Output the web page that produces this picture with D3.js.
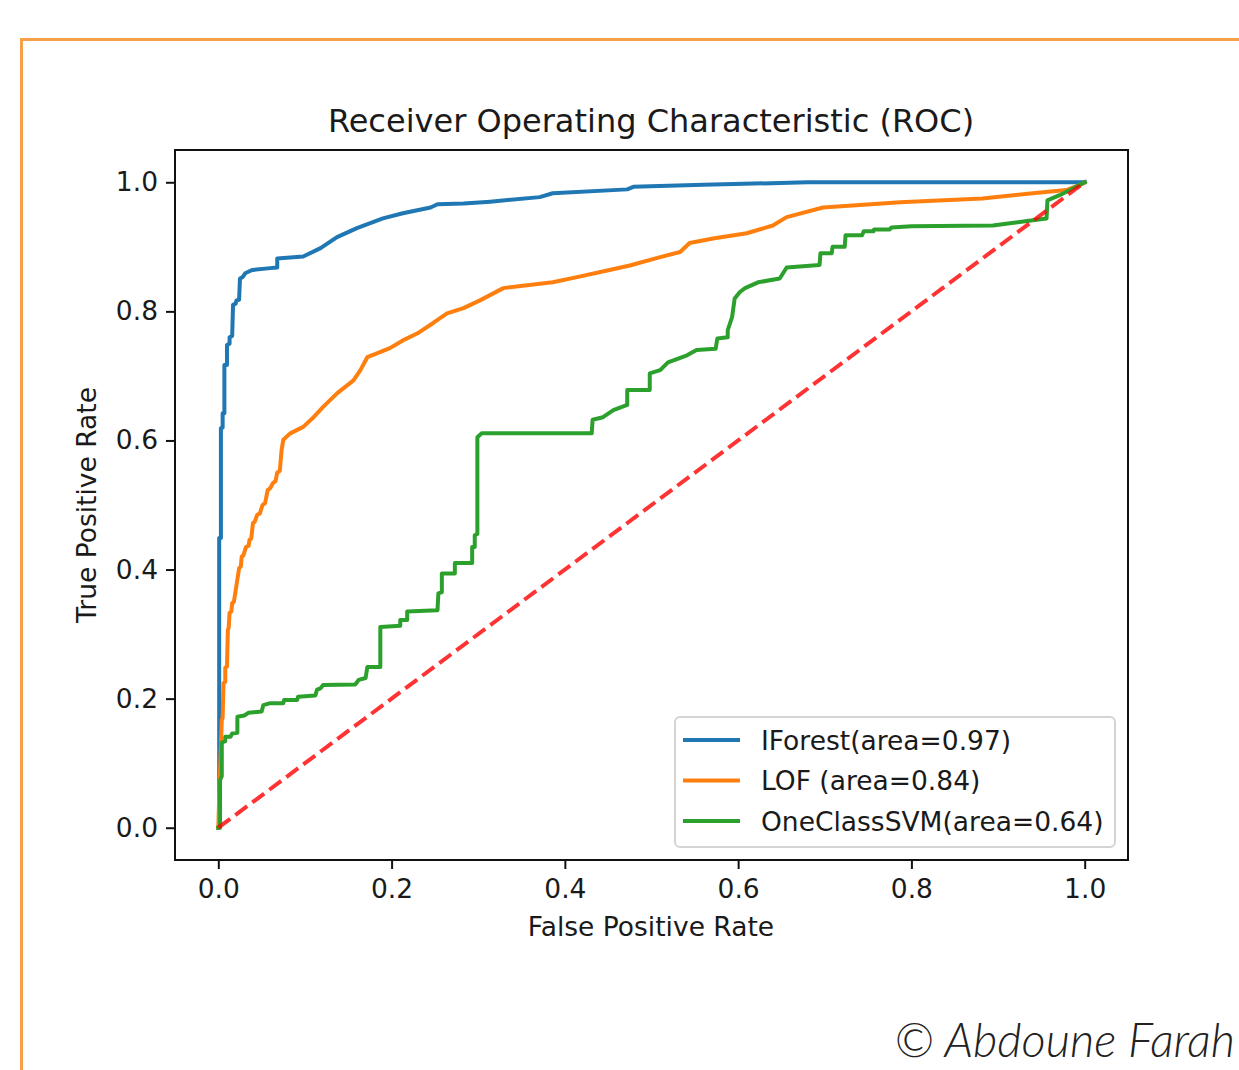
<!DOCTYPE html>
<html>
<head>
<meta charset="utf-8">
<script src="https://cdn.jsdelivr.net/npm/d3@7"></script>
<style>
  html, body { margin: 0; padding: 0; background: #fff; }
  svg { display: block; }
</style>
</head>
<body>
<svg id="chart"></svg>
<script>
// ROC curve points (false positive rate, true positive rate)
var iforestFpr = [0, 0.001, 0.001, 0.003, 0.003, 0.005, 0.005, 0.007, 0.007, 0.010, 0.010, 0.013, 0.013, 0.016, 0.017, 0.020, 0.021, 0.024, 0.025, 0.028, 0.031, 0.039, 0.060, 0.068, 0.068, 0.098, 0.118, 0.137, 0.160, 0.190, 0.213, 0.245, 0.253, 0.283, 0.314, 0.371, 0.386, 0.472, 0.479, 0.560, 0.680, 1.0];
var iforestTpr = [0, 0, 0.449, 0.449, 0.619, 0.620, 0.642, 0.642, 0.717, 0.717, 0.748, 0.750, 0.760, 0.762, 0.810, 0.812, 0.817, 0.818, 0.851, 0.853, 0.859, 0.864, 0.867, 0.868, 0.882, 0.885, 0.898, 0.915, 0.929, 0.944, 0.952, 0.961, 0.966, 0.967, 0.970, 0.977, 0.983, 0.989, 0.993, 0.996, 1.0, 1.0];

var lofFpr = [0, 0.001, 0.002, 0.004, 0.005, 0.006, 0.008, 0.008, 0.010, 0.011, 0.012, 0.013, 0.015, 0.016, 0.018, 0.024, 0.026, 0.027, 0.029, 0.032, 0.035, 0.036, 0.038, 0.040, 0.042, 0.045, 0.048, 0.051, 0.054, 0.057, 0.060, 0.063, 0.066, 0.068, 0.071, 0.073, 0.075, 0.083, 0.098, 0.110, 0.121, 0.137, 0.156, 0.164, 0.172, 0.183, 0.198, 0.213, 0.230, 0.248, 0.264, 0.283, 0.302, 0.329, 0.386, 0.414, 0.441, 0.475, 0.510, 0.533, 0.544, 0.571, 0.610, 0.640, 0.656, 0.698, 0.787, 0.882, 0.940, 0.979, 0.998, 1.0];
var lofTpr = [0, 0.048, 0.085, 0.167, 0.170, 0.224, 0.226, 0.248, 0.250, 0.306, 0.310, 0.333, 0.335, 0.348, 0.350, 0.402, 0.405, 0.420, 0.422, 0.435, 0.437, 0.446, 0.448, 0.472, 0.474, 0.485, 0.487, 0.500, 0.503, 0.523, 0.526, 0.534, 0.537, 0.550, 0.553, 0.585, 0.601, 0.611, 0.621, 0.636, 0.652, 0.673, 0.693, 0.709, 0.729, 0.735, 0.743, 0.755, 0.766, 0.782, 0.797, 0.805, 0.817, 0.836, 0.845, 0.853, 0.861, 0.871, 0.884, 0.892, 0.906, 0.913, 0.921, 0.933, 0.946, 0.961, 0.969, 0.975, 0.983, 0.988, 0.998, 1.0];

var svmFpr = [0, 0.002, 0.002, 0.004, 0.004, 0.008, 0.008, 0.014, 0.016, 0.022, 0.022, 0.030, 0.035, 0.050, 0.052, 0.060, 0.075, 0.076, 0.091, 0.092, 0.112, 0.114, 0.118, 0.121, 0.158, 0.162, 0.170, 0.172, 0.187, 0.187, 0.210, 0.210, 0.218, 0.218, 0.253, 0.254, 0.258, 0.258, 0.273, 0.273, 0.293, 0.293, 0.296, 0.296, 0.299, 0.299, 0.304, 0.431, 0.432, 0.444, 0.456, 0.472, 0.472, 0.498, 0.498, 0.510, 0.519, 0.541, 0.552, 0.574, 0.576, 0.588, 0.588, 0.593, 0.596, 0.602, 0.608, 0.623, 0.648, 0.656, 0.694, 0.695, 0.708, 0.709, 0.723, 0.724, 0.743, 0.745, 0.756, 0.757, 0.775, 0.777, 0.800, 0.894, 0.916, 0.940, 0.956, 0.957, 0.971, 0.983, 1.0];
var svmTpr = [0, 0, 0.074, 0.080, 0.132, 0.134, 0.141, 0.141, 0.146, 0.147, 0.172, 0.174, 0.178, 0.180, 0.190, 0.193, 0.193, 0.198, 0.198, 0.203, 0.205, 0.214, 0.216, 0.221, 0.222, 0.229, 0.232, 0.249, 0.249, 0.311, 0.313, 0.322, 0.322, 0.335, 0.337, 0.363, 0.365, 0.394, 0.394, 0.410, 0.410, 0.435, 0.435, 0.453, 0.455, 0.605, 0.611, 0.611, 0.632, 0.636, 0.647, 0.655, 0.678, 0.678, 0.704, 0.709, 0.721, 0.732, 0.740, 0.742, 0.758, 0.760, 0.771, 0.791, 0.820, 0.830, 0.836, 0.845, 0.851, 0.868, 0.872, 0.890, 0.890, 0.900, 0.900, 0.918, 0.918, 0.924, 0.924, 0.927, 0.927, 0.930, 0.932, 0.933, 0.937, 0.941, 0.944, 0.972, 0.980, 0.988, 1.0];

var seriesNames = ["IForest(area=0.97)", "LOF (area=0.84)", "OneClassSVM(area=0.64)"];
var seriesColors = ["#1f77b4", "#ff7f0e", "#2ca02c"];
var tickValues = [0.0, 0.2, 0.4, 0.6, 0.8, 1.0];

var width = 1239, height = 1070;
var font = "'DejaVu Sans', sans-serif";
var fontSize = "26.5px";

var svg = d3.select("#chart")
    .attr("width", width)
    .attr("height", height);

svg.append("rect")
    .attr("width", width)
    .attr("height", height)
    .attr("fill", "#fff");

// orange frame round the picture
svg.append("path")
    .attr("d", "M21.5," + height + " L21.5,39.5 L" + width + ",39.5")
    .attr("fill", "none")
    .attr("stroke", "#f6a04a")
    .attr("stroke-width", 3);

var plot = {left: 175, right: 1128, top: 150, bottom: 860};

var x = d3.scaleLinear().domain([-0.05, 1.05]).range([plot.left, plot.right]);
var y = d3.scaleLinear().domain([-0.05, 1.05]).range([plot.bottom, plot.top]);

var g = svg.append("g");

var line = d3.line()
    .x(function (d) { return x(d[0]); })
    .y(function (d) { return y(d[1]); });

function zip(a, b) {
    return a.map(function (v, i) { return [v, b[i]]; });
}

var curves = [zip(iforestFpr, iforestTpr), zip(lofFpr, lofTpr), zip(svmFpr, svmTpr)];

g.append("defs").append("clipPath").attr("id", "clip")
    .append("rect")
    .attr("x", plot.left).attr("y", plot.top)
    .attr("width", plot.right - plot.left).attr("height", plot.bottom - plot.top);

var lines = g.append("g").attr("clip-path", "url(#clip)");

lines.selectAll("path.roc")
    .data(curves)
    .enter().append("path")
    .attr("class", "roc")
    .attr("d", line)
    .attr("fill", "none")
    .attr("stroke", function (d, i) { return seriesColors[i]; })
    .attr("stroke-width", 4)
    .attr("stroke-linejoin", "round")
    .attr("stroke-linecap", "square");

// chance diagonal
lines.append("path")
    .attr("d", line([[0, 0], [1, 1]]))
    .attr("fill", "none")
    .attr("stroke", "#ff0000")
    .attr("stroke-opacity", 0.8)
    .attr("stroke-width", 4)
    .attr("stroke-dasharray", "14.8,6.4");

// axes
var xAxis = d3.axisBottom(x).tickValues(tickValues).tickFormat(d3.format(".1f"))
    .tickSizeInner(9).tickSizeOuter(0).tickPadding(10);
var yAxis = d3.axisLeft(y).tickValues(tickValues).tickFormat(d3.format(".1f"))
    .tickSizeInner(9).tickSizeOuter(0).tickPadding(8);

var gx = g.append("g").attr("transform", "translate(0," + plot.bottom + ")").call(xAxis);
var gy = g.append("g").attr("transform", "translate(" + plot.left + ",0)").call(yAxis);

[gx, gy].forEach(function (a) {
    a.select(".domain").remove();
    a.selectAll(".tick line").attr("stroke", "#111").attr("stroke-width", 2);
    a.selectAll(".tick text")
        .attr("fill", "#1a1a1a")
        .style("font-family", font)
        .style("font-size", fontSize);
});

// axes frame
g.append("rect")
    .attr("x", plot.left).attr("y", plot.top)
    .attr("width", plot.right - plot.left).attr("height", plot.bottom - plot.top)
    .attr("fill", "none")
    .attr("stroke", "#111")
    .attr("stroke-width", 2);

// title and axis labels
g.append("text")
    .attr("x", 651)
    .attr("y", 132)
    .attr("text-anchor", "middle")
    .attr("fill", "#1a1a1a")
    .style("font-family", font)
    .style("font-size", "32px")
    .text("Receiver Operating Characteristic (ROC)");

g.append("text")
    .attr("x", 651)
    .attr("y", 936)
    .attr("text-anchor", "middle")
    .attr("fill", "#1a1a1a")
    .style("font-family", font)
    .style("font-size", fontSize)
    .text("False Positive Rate");

g.append("text")
    .attr("transform", "translate(96," + (plot.top + plot.bottom) / 2 + ") rotate(-90)")
    .attr("text-anchor", "middle")
    .attr("fill", "#1a1a1a")
    .style("font-family", font)
    .style("font-size", fontSize)
    .text("True Positive Rate");

// legend
var legend = g.append("g").attr("transform", "translate(675,717)");

legend.append("rect")
    .attr("width", 440).attr("height", 130)
    .attr("rx", 5)
    .attr("fill", "#fff").attr("fill-opacity", 0.8)
    .attr("stroke", "#d4d4d4").attr("stroke-width", 2);

var items = legend.selectAll("g.item")
    .data(seriesNames)
    .enter().append("g")
    .attr("class", "item")
    .attr("transform", function (d, i) { return "translate(0," + (23 + i * 40.5) + ")"; });

items.append("line")
    .attr("x1", 8).attr("x2", 65)
    .attr("stroke", function (d, i) { return seriesColors[i]; })
    .attr("stroke-width", 4);

items.append("text")
    .attr("x", 86)
    .attr("y", 9.5)
    .attr("fill", "#1a1a1a")
    .style("font-family", font)
    .style("font-size", fontSize)
    .text(function (d) { return d; });

// copyright
svg.append("text")
    .attr("x", 1235)
    .attr("y", 1057)
    .attr("text-anchor", "end")
    .attr("fill", "#222")
    .style("font-family", "Lato, 'Open Sans', sans-serif")
    .style("font-style", "italic")
    .style("font-weight", 300)
    .style("font-size", "47px")
    .text("\u00a9 Abdoune Farah");
</script>
</body>
</html>
